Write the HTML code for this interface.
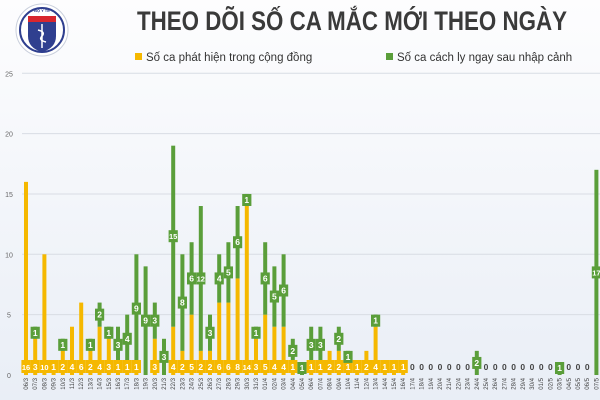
<!DOCTYPE html>
<html><head><meta charset="utf-8"><style>
body{margin:0;width:600px;height:400px;overflow:hidden;background:linear-gradient(#fdfdfe,#e9eef6);font-family:"Liberation Sans",sans-serif}
svg{display:block}
</style></head><body>
<svg id="c" width="600" height="400">
  <g>
    <circle cx="42" cy="30" r="26" fill="#fff" stroke="#c9cfdc" stroke-width="1"/>
    <circle cx="42" cy="30" r="22" fill="none" stroke="#2f3f8f" stroke-width="2"/>
    <path d="M28 16 H56 V36 Q56 48 42 52 Q28 48 28 36 Z" fill="#2f3f8f"/>
    <rect x="28" y="16" width="28" height="6" fill="#d8262e"/>
    <text x="42" y="12" font-size="4" text-anchor="middle" fill="#2f3f8f" font-weight="bold">BỘ Y TẾ</text>
    <line x1="42" y1="24" x2="42" y2="48" stroke="#fff" stroke-width="1.5"/>
    <path d="M38 30 Q46 32 42 36 Q38 40 46 42" fill="none" stroke="#fff" stroke-width="1.5"/>
  </g>
  <text x="352" y="30" font-size="27" font-weight="bold" text-anchor="middle" fill="#3a3a3a" textLength="430" lengthAdjust="spacingAndGlyphs">THEO DÕI SỐ CA MẮC MỚI THEO NGÀY</text>
  <g>
    <rect x="135" y="53" width="7" height="7" fill="#f5b800"/>
    <text x="146" y="61" font-size="11.5" fill="#333">Số ca phát hiện trong cộng đồng</text>
    <rect x="386" y="53" width="7" height="7" fill="#5a9e3a"/>
    <text x="397" y="61" font-size="11.5" fill="#333">Số ca cách ly ngay sau nhập cảnh</text>
  </g>
  <g id="grid"></g><g id="bars"></g><g id="labels"></g><g id="xl"></g>
</svg>
<script>
const dates=["06/3","07/3","08/3","09/3","10/3","11/3","12/3","13/3","14/3","15/3","16/3","17/3","18/3","19/3","20/3","21/3","22/3","23/3","24/3","25/3","26/3","27/3","28/3","29/3","30/3","31/3","01/4","02/4","03/4","04/4","05/4","06/4","07/4","08/4","09/4","10/4","11/4","12/4","13/4","14/4","15/4","16/4","17/4","18/4","19/4","20/4","21/4","22/4","23/4","24/4","25/4","26/4","27/4","28/4","29/4","30/4","01/5","02/5","03/5","04/5","05/5","06/5","07/5"];
const community=[16,3,10,1,2,4,6,2,4,3,1,1,1,0,3,0,4,2,5,2,2,6,6,8,14,3,5,4,4,1,0,1,1,2,2,1,1,2,4,1,1,1,0,0,0,0,0,0,0,0,0,0,0,0,0,0,0,0,0,0,0,0,0];
const imported=[0,1,0,0,1,0,0,1,2,1,3,4,9,9,3,3,15,8,6,12,3,4,5,6,1,1,6,5,6,2,1,3,3,0,2,1,0,0,1,0,0,0,0,0,0,0,0,0,0,2,0,0,0,0,0,0,0,0,1,0,0,0,17];
const yTicks=[0,5,10,15,20,25];
const NS="http://www.w3.org/2000/svg";
const yS=v=>375-v*12.07, xS=i=>26+i*9.2;
function mk(t,a,p){const e=document.createElementNS(NS,t);for(const k in a)e.setAttribute(k,a[k]);document.getElementById(p).appendChild(e);return e;}
yTicks.forEach(v=>{
  if(v>0){const l=mk('line',{x1:22,x2:600,y1:yS(v),y2:yS(v),stroke:'#d8dce4','stroke-width':1},'grid');
  
  }
  const t=mk('text',{x:9,y:yS(v)+3,'font-size':7,fill:'#666','text-anchor':'middle'},'grid');t.textContent=v;
  
  
});
dates.forEach((d,i)=>{
  const x=xS(i),c=community[i],g=imported[i];
  if(c>0){const r=mk('rect',{x:x-2,y:yS(c),width:4,height:yS(0)-yS(c),fill:'#f5b800'},'bars');
    
    
    const b=mk('rect',{x:x-4.6,y:360,width:9.2,height:13,fill:'#f5b800'},'labels');
    
    
    const t=mk('text',{x:x,y:370,'font-size':c>9?7.5:8.5,'font-weight':'bold',fill:'#fff','text-anchor':'middle'},'labels');t.textContent=c;
    
    }
  if(g>0){const r=mk('rect',{x:x-2,y:yS(c+g),width:4,height:yS(c)-yS(c+g),fill:'#5a9e3a'},'bars');
    
    
    let cy=yS(c+g/2); if(c===0) cy=Math.min(cy,368);
    const b=mk('rect',{x:x-4.6,y:cy-6,width:9.2,height:12,fill:'#5a9e3a'},'labels');
    
    
    const t=mk('text',{x:x,y:cy+3,'font-size':g>9?7.5:8.5,'font-weight':'bold',fill:'#fff','text-anchor':'middle'},'labels');t.textContent=g;
    
    }
  if(c===0&&g===0){const t=mk('text',{x:x,y:370,'font-size':8.5,'font-weight':'bold',fill:'#444','text-anchor':'middle'},'labels');t.textContent='0';
    
    }
  const xl=mk('text',{x:0,y:0,'font-size':6,fill:'#444','text-anchor':'end',transform:`translate(${x+2},378) rotate(-90)`},'xl');xl.textContent=d;
  
  
});
</script>
</body></html>
